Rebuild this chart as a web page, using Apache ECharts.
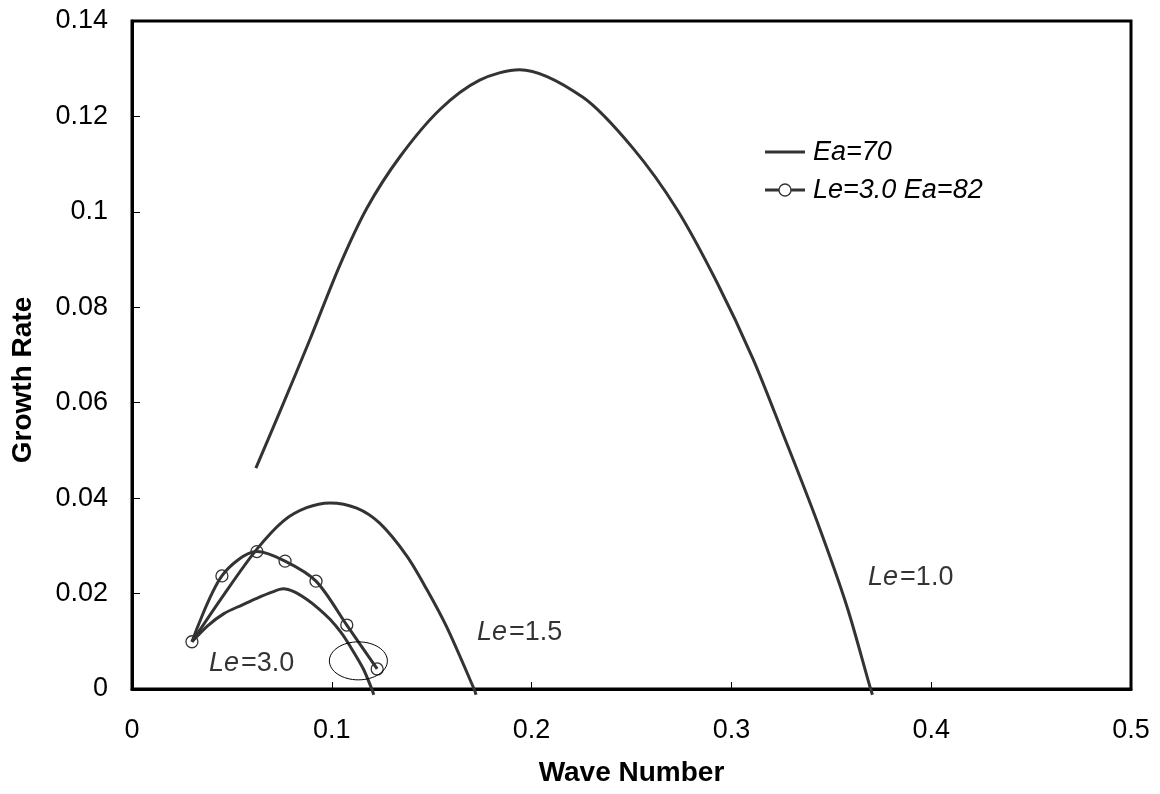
<!DOCTYPE html>
<html>
<head>
<meta charset="utf-8">
<script src="https://cdn.jsdelivr.net/npm/echarts@6/dist/echarts.min.js"></script>
<style>
html,body{margin:0;padding:0;background:#fff;}
#chart{width:1160px;height:794px;}
</style>
</head>
<body>
<div id="chart"></div>
<script>
// ---- data (x = wave number, y = growth rate) ----
const le10_ea70 = [[0.062,0.0463],[0.0756,0.0597],[0.0891,0.0733],[0.104,0.0888],[0.1176,0.1008],[0.134,0.1115],[0.154,0.1214],[0.174,0.1276],[0.194,0.1298],[0.2257,0.1240],[0.2508,0.1133],[0.2728,0.1005],[0.2928,0.0852],[0.3108,0.0692],[0.3258,0.0535],[0.3428,0.0352],[0.3579,0.0172],[0.3694,0.0004],[0.3706,-0.0012]];
const le15_ea70 = [[0.030,0.0099],[0.0462,0.0199],[0.0621,0.0291],[0.0757,0.0352],[0.0874,0.0380],[0.0991,0.0390],[0.1125,0.0379],[0.1241,0.0347],[0.1375,0.0279],[0.1475,0.0209],[0.1575,0.0130],[0.1712,0.0000],[0.1722,-0.0012]];
const le30_ea70 = [[0.030,0.0099],[0.038,0.0133],[0.046,0.0158],[0.055,0.0176],[0.0624,0.0190],[0.070,0.0203],[0.0757,0.0210],[0.081,0.0204],[0.0874,0.0188],[0.0935,0.0168],[0.0991,0.0146],[0.1045,0.0119],[0.1091,0.0090],[0.1158,0.0042],[0.1200,0.0000],[0.1210,-0.0012]];
const le30_ea82 = [[0.030,0.0099],[0.045,0.0237],[0.0625,0.0288],[0.0766,0.0268],[0.0921,0.0226],[0.1075,0.0134],[0.1227,0.0042]];
const curveLabels = [
  {le:'3.0', pos:[0.0385,0.0054]},
  {le:'1.5', pos:[0.1727,0.0119]},
  {le:'1.0', pos:[0.3684,0.0233]}
];
const ellipseCenter = [0.1133,0.0059];
const xTickLabels = ['0','0.1','0.2','0.3','0.4','0.5'];
const yTickLabels = ['0','0.02','0.04','0.06','0.08','0.1','0.12','0.14'];
const legendNames = ['Ea=70','Le=3.0 Ea=82'];

const FONT = "'Liberation Sans', Arial, sans-serif";
const LINE = '#333333';

const chart = echarts.init(document.getElementById('chart'), null, {renderer:'canvas'});

function curve(name, data, withMarker){
  return {
    name: name, type:'line', data: data, smooth: 0.3, clip:false,
    symbol: withMarker ? 'circle' : 'none',
    showSymbol: !!withMarker,
    symbolSize: 12,
    lineStyle:{color:LINE, width:3},
    itemStyle:{color:'rgba(255,255,255,0)', borderColor:LINE, borderWidth:1.3},
    emphasis:{disabled:true},
    z: withMarker ? 3 : 2
  };
}

// legend drawn as graphic (line-only icon for Ea=70, line+circle for Ea=82)
const LX = 765, LY = [152, 190];
const legendGraphic = [];
legendNames.forEach((n, i) => {
  legendGraphic.push({type:'line', shape:{x1:LX, y1:LY[i], x2:LX+40, y2:LY[i]},
    style:{stroke:LINE, lineWidth:3}, silent:true});
  if (i === 1) {
    legendGraphic.push({type:'circle', shape:{cx:LX+20, cy:LY[i], r:6},
      style:{fill:'#fff', stroke:LINE, lineWidth:1.3}, silent:true});
  }
  legendGraphic.push({type:'text', x:LX+48, y:LY[i],
    style:{text:n, fontFamily:FONT, fontSize:27, fontStyle:'italic', fill:'#000',
      verticalAlign:'middle', align:'left'}, silent:true});
});

const option = {
  animation:false,
  backgroundColor:'#fff',
  grid:{left:132, right:29, top:21, bottom:105, show:true, borderColor:'#000', borderWidth:3, containLabel:false},
  xAxis:{
    type:'value', min:0, max:0.5, interval:0.1,
    name:'Wave Number', nameLocation:'middle', nameGap:70,
    nameTextStyle:{fontFamily:FONT, fontSize:28, fontWeight:'bold', color:'#000'},
    axisLine:{show:true, onZero:false, lineStyle:{color:'#000', width:3}},
    axisTick:{show:true, inside:true, length:7, lineStyle:{color:'#000', width:1}},
    axisLabel:{margin:28, fontFamily:FONT, fontSize:27, color:'#000',
      formatter:(v)=>xTickLabels[Math.round(v/0.1)]},
    splitLine:{show:false}
  },
  yAxis:{
    type:'value', min:0, max:0.14, interval:0.02,
    name:'Growth Rate', nameLocation:'middle', nameGap:95,
    nameTextStyle:{fontFamily:FONT, fontSize:28, fontWeight:'bold', color:'#000', padding:[0,50,0,0]},
    axisLine:{show:true, onZero:false, lineStyle:{color:'#000', width:3}},
    axisTick:{show:true, inside:true, length:8, lineStyle:{color:'#000', width:1}},
    axisLabel:{margin:24, fontFamily:FONT, fontSize:27, color:'#000',
      formatter:(v)=>yTickLabels[Math.round(v/0.02)]},
    splitLine:{show:false}
  },
  series:[
    curve(legendNames[0], le10_ea70, false),
    curve(legendNames[0], le15_ea70, false),
    curve(legendNames[0], le30_ea70, false),
    curve(legendNames[1], le30_ea82, true),
    {
      name:'curveLabels', type:'scatter', symbolSize:0, silent:true,
      data: curveLabels.map(c=>({value:c.pos, name:c.le})),
      label:{show:true, position:'right', distance:0,
        formatter:(p)=>'{i|Le}{n|=' + p.name + '}',
        rich:{
          i:{fontFamily:FONT, fontSize:27, fontStyle:'italic', color:'#000', padding:[0,2,0,0]},
          n:{fontFamily:FONT, fontSize:27, color:'#000'}
        }}
    }
  ],
  graphic: legendGraphic
};
chart.setOption(option);

const c = chart.convertToPixel({gridIndex:0}, ellipseCenter);
chart.setOption({
  graphic: legendGraphic.concat([{
    type:'ellipse', shape:{cx:c[0], cy:c[1], rx:29, ry:19},
    style:{fill:'none', stroke:'#000', lineWidth:1}, silent:true, z:10
  }])
});
</script>
</body>
</html>
